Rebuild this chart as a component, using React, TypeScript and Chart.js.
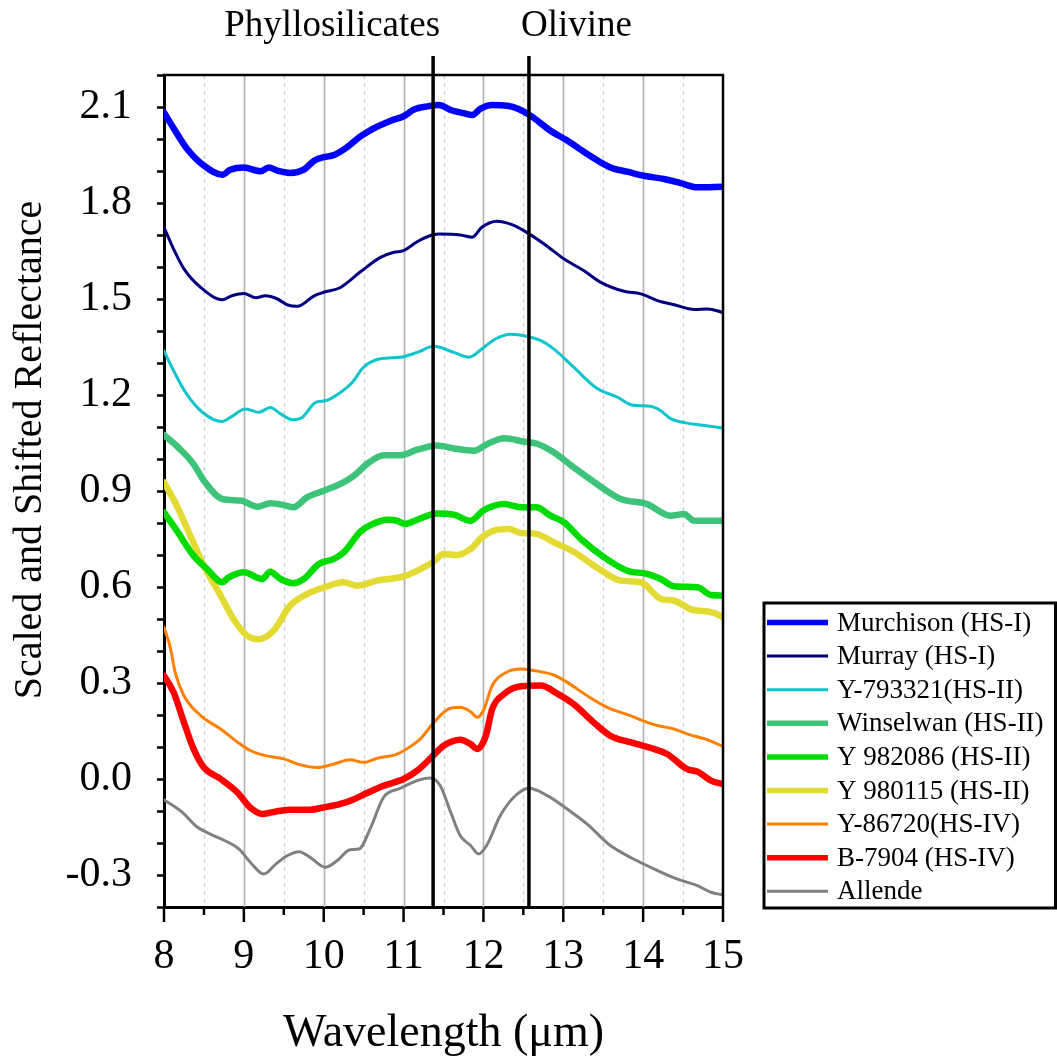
import { useEffect, useRef } from 'react';
import { Chart, registerables } from 'chart.js';

Chart.register(...registerables);

const W = 1057;
const H = 1064;
const FONT = "'Liberation Serif', 'Times New Roman', serif";

// Wavelength (µm) / scaled-and-shifted reflectance pairs for each meteorite spectrum
const murchisonWl = [8.0, 8.14, 8.29, 8.5, 8.73, 8.83, 9.0, 9.21, 9.31, 9.42, 9.58, 9.75, 9.88, 10.0, 10.13, 10.29, 10.46, 10.61, 10.84, 11.0, 11.13, 11.3, 11.44, 11.61, 11.75, 11.86, 11.96, 12.11, 12.3, 12.44, 12.59, 12.84, 13.05, 13.3, 13.59, 13.8, 14.01, 14.26, 14.47, 14.68, 15.0];
const murchison = [2.083, 2.026, 1.969, 1.917, 1.888, 1.904, 1.911, 1.899, 1.911, 1.901, 1.894, 1.904, 1.932, 1.943, 1.95, 1.974, 2.008, 2.031, 2.057, 2.071, 2.092, 2.102, 2.106, 2.089, 2.081, 2.075, 2.094, 2.106, 2.104, 2.094, 2.073, 2.026, 1.995, 1.953, 1.911, 1.898, 1.885, 1.875, 1.862, 1.849, 1.851];

const murrayWl = [8.0, 8.12, 8.25, 8.46, 8.73, 8.85, 9.0, 9.15, 9.27, 9.42, 9.54, 9.67, 9.88, 10.0, 10.21, 10.46, 10.71, 10.88, 11.0, 11.17, 11.36, 11.46, 11.71, 11.86, 11.98, 12.17, 12.34, 12.51, 12.76, 13.01, 13.26, 13.47, 13.76, 13.97, 14.18, 14.39, 14.64, 14.81, 15.0];
const murray = [1.724, 1.656, 1.594, 1.536, 1.498, 1.51, 1.517, 1.504, 1.51, 1.5, 1.482, 1.477, 1.51, 1.521, 1.536, 1.585, 1.63, 1.646, 1.651, 1.679, 1.7, 1.703, 1.7, 1.693, 1.724, 1.743, 1.734, 1.713, 1.672, 1.625, 1.588, 1.552, 1.524, 1.516, 1.495, 1.482, 1.467, 1.469, 1.458];

const y793321Wl = [8.0, 8.12, 8.27, 8.48, 8.73, 8.83, 9.02, 9.19, 9.33, 9.46, 9.61, 9.73, 9.9, 10.02, 10.21, 10.36, 10.5, 10.71, 10.96, 11.17, 11.38, 11.63, 11.82, 11.98, 12.15, 12.34, 12.55, 12.72, 12.88, 13.13, 13.42, 13.68, 13.86, 14.09, 14.22, 14.34, 14.53, 14.72, 15.0];
const y793321 = [1.338, 1.276, 1.208, 1.146, 1.117, 1.13, 1.156, 1.146, 1.161, 1.141, 1.123, 1.13, 1.177, 1.182, 1.208, 1.24, 1.287, 1.313, 1.318, 1.333, 1.352, 1.333, 1.318, 1.344, 1.375, 1.39, 1.383, 1.37, 1.344, 1.287, 1.221, 1.193, 1.169, 1.165, 1.151, 1.127, 1.113, 1.106, 1.097];

const winselwanWl = [8.0, 8.2, 8.37, 8.5, 8.73, 8.96, 9.17, 9.33, 9.5, 9.62, 9.79, 10.0, 10.21, 10.38, 10.54, 10.75, 10.96, 11.17, 11.42, 11.63, 11.88, 12.05, 12.26, 12.51, 12.68, 12.88, 13.13, 13.42, 13.72, 14.05, 14.34, 14.51, 14.64, 15.0];
const winselwan = [1.075, 1.031, 0.984, 0.932, 0.875, 0.87, 0.851, 0.862, 0.856, 0.849, 0.88, 0.901, 0.922, 0.948, 0.984, 1.012, 1.012, 1.029, 1.042, 1.033, 1.026, 1.047, 1.065, 1.054, 1.047, 1.021, 0.974, 0.922, 0.875, 0.859, 0.823, 0.828, 0.807, 0.807];

const y982086Wl = [8.0, 8.16, 8.37, 8.54, 8.73, 8.81, 9.0, 9.23, 9.33, 9.46, 9.62, 9.75, 9.94, 10.13, 10.25, 10.46, 10.59, 10.8, 10.92, 11.02, 11.17, 11.42, 11.63, 11.84, 12.0, 12.26, 12.47, 12.66, 12.84, 13.01, 13.22, 13.51, 13.8, 14.05, 14.22, 14.39, 14.68, 14.85, 15.0];
const y982086 = [0.833, 0.776, 0.698, 0.656, 0.615, 0.63, 0.646, 0.625, 0.648, 0.625, 0.612, 0.625, 0.672, 0.688, 0.708, 0.773, 0.794, 0.81, 0.807, 0.797, 0.81, 0.83, 0.826, 0.807, 0.839, 0.859, 0.849, 0.849, 0.823, 0.802, 0.75, 0.693, 0.651, 0.641, 0.625, 0.602, 0.599, 0.575, 0.573];

const y980115Wl = [8.0, 8.16, 8.33, 8.52, 8.71, 8.87, 9.04, 9.19, 9.37, 9.58, 9.79, 10.04, 10.25, 10.42, 10.67, 11.0, 11.21, 11.38, 11.5, 11.67, 11.84, 11.98, 12.13, 12.32, 12.47, 12.66, 12.88, 13.13, 13.42, 13.72, 13.97, 14.22, 14.39, 14.59, 14.89, 15.0];
const y980115 = [0.927, 0.854, 0.76, 0.656, 0.573, 0.5, 0.448, 0.437, 0.463, 0.542, 0.578, 0.602, 0.615, 0.604, 0.62, 0.633, 0.656, 0.68, 0.703, 0.7, 0.719, 0.755, 0.776, 0.781, 0.769, 0.766, 0.74, 0.71, 0.661, 0.62, 0.615, 0.563, 0.557, 0.531, 0.519, 0.505];

const y86720Wl = [8.0, 8.08, 8.14, 8.25, 8.46, 8.71, 8.92, 9.08, 9.27, 9.5, 9.71, 9.92, 10.13, 10.33, 10.5, 10.67, 10.92, 11.13, 11.21, 11.38, 11.55, 11.71, 11.84, 11.92, 12.0, 12.11, 12.3, 12.47, 12.63, 12.88, 13.05, 13.3, 13.55, 13.84, 14.05, 14.18, 14.39, 14.55, 14.8, 15.0];
const y86720 = [0.474, 0.41, 0.333, 0.26, 0.198, 0.156, 0.115, 0.089, 0.073, 0.063, 0.044, 0.036, 0.047, 0.06, 0.052, 0.065, 0.078, 0.109, 0.125, 0.177, 0.217, 0.224, 0.21, 0.193, 0.214, 0.292, 0.335, 0.344, 0.339, 0.325, 0.302, 0.26, 0.224, 0.198, 0.177, 0.167, 0.156, 0.141, 0.123, 0.102];

const b7904Wl = [8.0, 8.12, 8.25, 8.37, 8.5, 8.71, 8.92, 9.08, 9.23, 9.42, 9.58, 9.83, 10.0, 10.21, 10.38, 10.54, 10.75, 11.0, 11.17, 11.35, 11.5, 11.71, 11.84, 11.92, 12.03, 12.11, 12.26, 12.47, 12.72, 12.93, 13.13, 13.38, 13.59, 13.84, 14.13, 14.3, 14.55, 14.68, 14.85, 15.0];
const b7904 = [0.323, 0.271, 0.177, 0.094, 0.036, 0.0, -0.042, -0.089, -0.109, -0.101, -0.096, -0.096, -0.089, -0.078, -0.063, -0.044, -0.021, 0.0, 0.026, 0.068, 0.104, 0.123, 0.109, 0.094, 0.135, 0.219, 0.266, 0.29, 0.292, 0.266, 0.234, 0.177, 0.135, 0.115, 0.094, 0.078, 0.031, 0.023, -0.005, -0.016];

const allendeWl = [8.0, 8.23, 8.42, 8.58, 8.79, 8.94, 9.08, 9.25, 9.4, 9.54, 9.69, 9.83, 10.02, 10.17, 10.33, 10.44, 10.59, 10.75, 10.96, 11.17, 11.33, 11.46, 11.59, 11.71, 11.84, 11.94, 12.04, 12.21, 12.38, 12.57, 12.8, 13.05, 13.3, 13.59, 13.88, 14.18, 14.43, 14.68, 14.85, 15.0];
const allende = [-0.065, -0.104, -0.151, -0.172, -0.196, -0.219, -0.26, -0.297, -0.266, -0.24, -0.227, -0.245, -0.276, -0.255, -0.221, -0.219, -0.151, -0.057, -0.029, -0.005, 0.003, -0.021, -0.104, -0.177, -0.208, -0.234, -0.208, -0.115, -0.057, -0.029, -0.052, -0.094, -0.141, -0.208, -0.25, -0.286, -0.313, -0.333, -0.354, -0.362];

const seriesLabels = ['Murchison (HS-I)', 'Murray (HS-I)', 'Y-793321(HS-II)', 'Winselwan (HS-II)', 'Y 982086 (HS-II)', 'Y 980115 (HS-II)', 'Y-86720(HS-IV)', 'B-7904 (HS-IV)', 'Allende'];
const seriesWl = [murchisonWl, murrayWl, y793321Wl, winselwanWl, y982086Wl, y980115Wl, y86720Wl, b7904Wl, allendeWl];
const seriesR = [murchison, murray, y793321, winselwan, y982086, y980115, y86720, b7904, allende];
const seriesColors = ['#0000ff', '#000080', '#10c4cc', '#3ec47a', '#00dc00', '#e4da34', '#ff8000', '#ff0000', '#808080'];
const seriesWidths = [6.5, 3, 3, 6.5, 6.5, 6.5, 3, 6.5, 3];

// Absorption feature markers
const featureLines = [
  { label: 'Phyllosilicates', wl: 11.37, align: 'right' as CanvasTextAlign, dx: 7 },
  { label: 'Olivine', wl: 12.57, align: 'left' as CanvasTextAlign, dx: -8 },
];

const yMin = -0.4;
const yMax = 2.2;
const xMin = 8;
const xMax = 15;

const decorPlugin = {
  id: 'decor',
  beforeDatasetsDraw(chart: any) {
    const { ctx, chartArea: a, scales } = chart;
    const x = scales.x;
    ctx.save();
    for (let v = xMin; v <= xMax; v += 0.5) {
      if (v <= xMin || v >= xMax) continue;
      const px = Math.round(x.getPixelForValue(v)) + 0.5;
      const whole = Math.abs(v - Math.round(v)) < 1e-6;
      ctx.beginPath();
      ctx.setLineDash(whole ? [] : [4, 4]);
      ctx.strokeStyle = whole ? '#b0b0b0' : '#cdcdcd';
      ctx.lineWidth = whole ? 1.6 : 1.3;
      ctx.moveTo(px, a.top);
      ctx.lineTo(px, a.bottom);
      ctx.stroke();
    }
    ctx.restore();
  },
  afterDatasetsDraw(chart: any) {
    const { ctx, chartArea: a, scales } = chart;
    const x = scales.x;
    ctx.save();
    // frame top and right
    ctx.strokeStyle = '#000';
    ctx.lineWidth = 2.5;
    ctx.beginPath();
    ctx.moveTo(a.left - 1, a.top);
    ctx.lineTo(a.right, a.top);
    ctx.lineTo(a.right, a.bottom);
    ctx.stroke();
    // bottom ticks: long at integers, short at halves
    ctx.lineWidth = 2.5;
    for (let v = xMin; v <= xMax + 1e-9; v += 0.5) {
      const px = x.getPixelForValue(v);
      const whole = Math.abs(v - Math.round(v)) < 1e-6;
      ctx.beginPath();
      ctx.moveTo(px, a.bottom);
      ctx.lineTo(px, a.bottom + (whole ? 15 : 8));
      ctx.stroke();
    }
    // feature markers
    ctx.lineWidth = 3.5;
    ctx.fillStyle = '#000';
    ctx.font = `37px ${FONT}`;
    ctx.textBaseline = 'middle';
    for (const f of featureLines) {
      const px = x.getPixelForValue(f.wl);
      ctx.beginPath();
      ctx.moveTo(px, 56);
      ctx.lineTo(px, a.bottom);
      ctx.stroke();
      ctx.textAlign = f.align;
      ctx.fillText(f.label, px + f.dx, 26);
    }
    ctx.restore();
  },
  afterDraw(chart: any) {
    const { ctx, chartArea: a } = chart;
    ctx.save();
    // y axis title
    ctx.fillStyle = '#000';
    ctx.font = `40px ${FONT}`;
    ctx.textAlign = 'center';
    ctx.textBaseline = 'middle';
    ctx.translate(30, 450);
    ctx.rotate(-Math.PI / 2);
    ctx.fillText('Scaled and Shifted Reflectance', 0, 0);
    ctx.restore();

    // legend
    ctx.save();
    const left = 764;
    const top = 603;
    const right = W - 1.5;
    const bottom = a.bottom + 1;
    ctx.strokeStyle = '#000';
    ctx.lineWidth = 3;
    ctx.strokeRect(left, top, right - left, bottom - top);
    ctx.font = `27px ${FONT}`;
    ctx.textAlign = 'left';
    ctx.textBaseline = 'middle';
    ctx.fillStyle = '#000';
    seriesLabels.forEach((label, i) => {
      const yy = 622.5 + i * 33.6;
      ctx.strokeStyle = seriesColors[i];
      ctx.lineWidth = seriesWidths[i] > 4 ? 5.5 : 3;
      ctx.beginPath();
      ctx.moveTo(767, yy);
      ctx.lineTo(828, yy);
      ctx.stroke();
      ctx.fillText(label, 837, yy + 1);
    });
    ctx.restore();
  },
};

export default function App() {
  const canvasRef = useRef<HTMLCanvasElement>(null);

  useEffect(() => {
    const canvas = canvasRef.current;
    if (!canvas) return;
    const datasets = seriesLabels.map((label, i) => ({
      label,
      data: seriesWl[i].map((wl, j) => ({ x: wl, y: seriesR[i][j] })),
      borderColor: seriesColors[i],
      backgroundColor: seriesColors[i],
      borderWidth: seriesWidths[i],
      pointRadius: 0,
      fill: false,
      cubicInterpolationMode: 'monotone' as const,
      borderCapStyle: 'round' as const,
      borderJoinStyle: 'round' as const,
    }));
    const chart = new Chart(canvas, {
      type: 'line',
      data: { datasets },
      options: {
        responsive: false,
        animation: false,
        devicePixelRatio: 1,
        layout: { padding: { left: 0, top: 75, right: W - 723, bottom: 0 } },
        plugins: {
          legend: { display: false },
          tooltip: { enabled: false },
        },
        scales: {
          x: {
            type: 'linear',
            min: xMin,
            max: xMax,
            ticks: {
              stepSize: 1,
              autoSkip: false,
              color: '#000',
              padding: 25,
              maxRotation: 0,
              font: { family: FONT, size: 42 },
            },
            grid: { display: false, drawTicks: false },
            border: { display: true, color: '#000', width: 3 },
            title: {
              display: true,
              text: 'Wavelength (μm)',
              color: '#000',
              font: { family: FONT, size: 46 },
              padding: { top: 0, bottom: 2 },
            },
            afterFit(scale: any) {
              scale.height = H - 907;
            },
          },
          y: {
            type: 'linear',
            min: yMin,
            max: yMax,
            ticks: {
              stepSize: 0.1,
              autoSkip: false,
              includeBounds: false,
              color: '#000',
              padding: 25,
              font: { family: FONT, size: 42 },
              callback: (value: any) => {
                const n = Math.round(Number(value) * 10);
                return n % 3 === 0 ? (n / 10).toFixed(1) : '';
              },
            },
            grid: {
              drawOnChartArea: false,
              drawTicks: true,
              tickLength: 7,
              tickWidth: 2.5,
              tickColor: '#000',
              color: '#000',
            },
            border: { display: true, color: '#000', width: 3 },
            afterFit(scale: any) {
              scale.width = 164;
            },
          },
        },
      },
      plugins: [decorPlugin],
    });
    return () => chart.destroy();
  }, []);

  return (
    <div style={{ position: 'fixed', left: 0, top: 0, width: W, height: H, background: '#fff' }}>
      <canvas ref={canvasRef} width={W} height={H} style={{ display: 'block', width: W, height: H }} />
    </div>
  );
}
